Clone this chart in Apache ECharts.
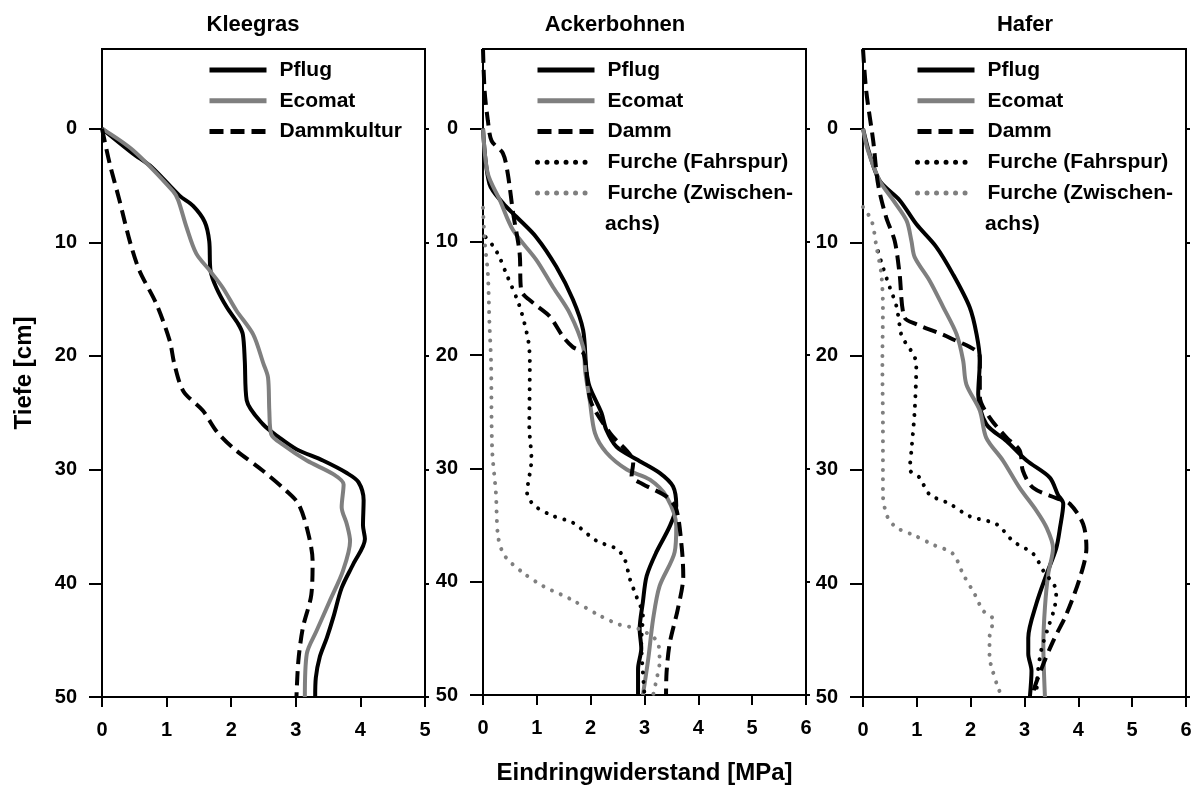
<!DOCTYPE html>
<html lang="de">
<head>
<meta charset="UTF-8">
<title>Eindringwiderstand</title>
<style>
    * { margin: 0; padding: 0; }
    #chart { width: 1196px; height: 790px; }
</style>
</head>
<body>
<div id="chart"></div>
<script src="https://cdn.jsdelivr.net/npm/echarts@6/dist/echarts.min.js"></script>
<script>
    // pairs: [Eindringwiderstand MPa, Tiefe cm]
    var kleePflug = [[0,0],[0.48,2.2],[0.77,3.4],[1.2,5.9],[1.41,6.8],[1.59,8.2],[1.66,9.9],[1.68,12.5],[1.77,14.0],[1.93,15.7],[2.11,17.2],[2.18,18.1],[2.21,20.4],[2.24,23.9],[2.49,26.0],[2.75,27.2],[3.01,28.2],[3.42,29.2],[3.79,30.3],[3.97,31.1],[4.05,32.7],[4.04,34.9],[4.07,36.1],[3.89,38.3],[3.71,40.4],[3.58,43.0],[3.48,44.8],[3.37,46.5],[3.31,48.3],[3.30,50]];
    var kleeEcomat = [[0,0],[0.48,1.9],[1.1,5.5],[1.18,6.3],[1.31,8.7],[1.46,11.0],[1.67,12.5],[1.87,14.0],[2.08,16.0],[2.34,18.1],[2.5,20.7],[2.57,21.9],[2.59,24.8],[2.62,26.9],[2.8,27.8],[3.17,29.2],[3.58,30.4],[3.74,31.3],[3.71,33.3],[3.79,34.8],[3.84,36.3],[3.73,38.9],[3.53,41.5],[3.32,44.2],[3.17,46.2],[3.14,50]];
    var kleeDamm = [[0,0],[0.12,3.1],[0.27,6.3],[0.43,9.9],[0.58,12.5],[0.84,15.4],[1.05,18.7],[1.12,20.7],[1.26,23.1],[1.56,24.8],[1.77,26.6],[2.03,28.1],[2.49,30.1],[2.86,31.9],[3.04,33.0],[3.17,35.1],[3.26,38.0],[3.24,41.0],[3.11,43.9],[3.04,46.8],[3.01,50]];

    var ackPflug = [[0,0],[0.12,4.9],[0.37,6.6],[0.62,7.8],[0.99,9.6],[1.36,12.2],[1.67,15.1],[1.86,17.8],[1.92,21.3],[1.98,22.8],[2.2,25.1],[2.29,26.6],[2.48,28.1],[2.85,29.2],[3.28,30.4],[3.53,31.6],[3.59,33.3],[3.47,35.1],[3.22,37.4],[3.04,39.5],[2.97,41.8],[2.91,44.2],[2.94,45.9],[2.88,47.7],[2.88,50]];
    var ackEcomat = [[0,0],[0.09,4.0],[0.31,6.3],[0.56,9.0],[0.99,11.6],[1.3,14.0],[1.61,16.3],[1.86,19.3],[1.9,21.5],[1.98,23.9],[2.08,26.9],[2.29,28.6],[2.67,30.1],[3.1,31.0],[3.41,32.5],[3.59,35.1],[3.56,37.4],[3.28,40.4],[3.16,43.3],[3.07,46.8],[2.97,50]];
    var ackDamm = [[0,-7],[0.03,-3.3],[0.09,-0.7],[0.16,1.1],[0.37,2.2],[0.46,4.0],[0.56,7.5],[0.68,11.0],[0.71,14.3],[0.93,15.4],[1.24,16.6],[1.49,18.4],[1.67,19.3],[1.86,19.8],[1.92,21.5],[2.01,24.2],[2.36,26.9],[2.79,29.5],[2.76,30.7],[2.97,31.4],[3.41,32.5],[3.59,33.6],[3.69,36.9],[3.72,39.5],[3.62,42.4],[3.47,45.4],[3.41,48.0],[3.4,50]];
    var ackFahrspur = [[0.05,9.6],[0.19,10.4],[0.3,11.3],[0.43,12.8],[0.68,15.7],[0.84,18.7],[0.87,20.7],[0.86,26.3],[0.9,29.2],[0.82,32.2],[0.96,33.3],[1.3,34.2],[1.67,34.8],[2.11,36.4],[2.48,37.1],[2.63,38.0],[2.73,39.8],[2.85,41.3],[2.97,43.0],[2.94,45.4],[2.97,48.0],[3.0,50]];
    var ackZwischen = [[0,7.0],[0.03,9.9],[0.09,12.8],[0.12,17.2],[0.15,20.7],[0.17,28.3],[0.24,32.2],[0.28,36.0],[0.4,37.7],[0.74,39.2],[1.12,40.4],[1.61,41.5],[2.17,43.0],[2.54,43.8],[2.91,44.2],[3.25,45.4],[3.28,47.1],[3.22,48.7],[3.16,50]];

    var hafPflug = [[0,0],[0.12,2.2],[0.31,4.6],[0.68,6.3],[0.99,8.4],[1.36,10.4],[1.67,12.8],[1.98,15.7],[2.11,18.1],[2.17,20.4],[2.14,23.4],[2.29,26.0],[2.67,27.5],[3.04,29.2],[3.47,30.7],[3.62,32.2],[3.72,33.0],[3.66,35.1],[3.59,36.9],[3.41,39.2],[3.22,41.8],[3.07,44.8],[3.07,46.2],[3.13,47.7],[3.1,50]];
    var hafEcomat = [[0,0],[0.09,1.9],[0.31,4.6],[0.56,6.3],[0.81,8.1],[0.9,9.9],[0.96,11.3],[1.24,13.4],[1.49,15.7],[1.74,18.1],[1.86,20.4],[1.92,22.5],[2.17,24.8],[2.29,27.2],[2.6,29.2],[2.91,31.6],[3.22,33.6],[3.41,35.1],[3.53,36.9],[3.44,39.2],[3.38,42.1],[3.35,45.4],[3.38,50]];
    var hafDamm = [[0,-7],[0.06,-3.3],[0.19,1.1],[0.28,4.9],[0.43,7.8],[0.59,9.9],[0.68,12.8],[0.77,16.6],[0.99,17.2],[1.61,18.4],[2.17,20.1],[2.17,23.6],[2.35,25.4],[2.67,27.2],[2.91,28.3],[2.97,30.1],[3.16,31.6],[3.59,32.5],[3.84,33.0],[4.09,34.8],[4.15,36.9],[4.03,39.5],[3.78,42.7],[3.53,45.1],[3.35,47.1],[3.19,49.1],[3.15,50]];
    var hafFahrspur = [[0.28,10.8],[0.37,12.2],[0.5,14.0],[0.62,15.6],[0.68,17.3],[0.71,18.1],[0.81,19.0],[0.93,19.8],[0.99,20.7],[0.96,24.8],[0.9,28.3],[0.87,30.0],[1.05,30.7],[1.24,32.2],[1.61,33.0],[1.98,34.1],[2.48,34.8],[2.79,36.3],[3.16,37.4],[3.35,38.9],[3.59,40.7],[3.56,42.1],[3.44,43.9],[3.32,45.7],[3.25,47.7],[3.22,50]];
    var hafZwischen = [[0,6.9],[0.16,8.1],[0.25,10.4],[0.34,12.8],[0.37,15.7],[0.36,20.6],[0.37,26.3],[0.37,32.2],[0.4,33.3],[0.46,34.2],[0.62,35.1],[0.96,35.8],[1.3,36.6],[1.67,37.4],[1.86,39.2],[2.08,41.0],[2.23,42.4],[2.42,43.2],[2.35,44.8],[2.35,46.5],[2.39,47.4],[2.51,49.2],[2.59,50]];

    var panelTitles = ['Kleegras', 'Ackerbohnen', 'Hafer'];
    var xMax = [5, 6, 6];
    var depthTicks = [0, 10, 20, 30, 40, 50];
    var ZWISCHEN = 'Furche (Zwischen-achs)';

    var panels = [
        [['Pflug', kleePflug, 'solid'], ['Ecomat', kleeEcomat, 'gray'], ['Dammkultur', kleeDamm, 'dash']],
        [['Pflug', ackPflug, 'solid'], ['Ecomat', ackEcomat, 'gray'], ['Damm', ackDamm, 'dash'],
         ['Furche (Fahrspur)', ackFahrspur, 'dot'], [ZWISCHEN, ackZwischen, 'dotgray']],
        [['Pflug', hafPflug, 'solid'], ['Ecomat', hafEcomat, 'gray'], ['Damm', hafDamm, 'dash'],
         ['Furche (Fahrspur)', hafFahrspur, 'dot'], [ZWISCHEN, hafZwischen, 'dotgray']]
    ];

    var FONT = '"Liberation Sans", Arial, Helvetica, sans-serif';
    var gridLeft = [102, 483, 863];
    var gridWidth = 323;
    var legendLeft = [207, 535, 915];
    var titleX = [253, 615, 1025];

    function lineStyleFor(kind) {
        if (kind === 'solid') return { color: '#000', width: 4 };
        if (kind === 'gray') return { color: '#7f7f7f', width: 4 };
        if (kind === 'dash') return { color: '#000', width: 4, type: [14, 7] };
        if (kind === 'dot') return { color: '#000', width: 4, type: [0.01, 9.5], cap: 'round' };
        return { color: '#7f7f7f', width: 4, type: [0.01, 9.5], cap: 'round' };
    }

    var tickText = { fontSize: 20, fontWeight: 'bold', color: '#000', fontFamily: FONT };

    var option = {
        animation: false,
        backgroundColor: '#fff',
        grid: [], xAxis: [], yAxis: [], series: [], legend: [], graphic: []
    };

    panels.forEach(function (list, i) {
        option.grid.push({
            left: gridLeft[i], width: gridWidth, top: 49, height: 648,
            show: true, borderColor: '#000', borderWidth: 2
        });
        option.xAxis.push({
            type: 'value', gridIndex: i, min: 0, max: xMax[i], interval: 1, position: 'bottom',
            axisLine: { onZero: false, lineStyle: { color: '#000', width: 2 } },
            axisTick: { length: 10, lineStyle: { color: '#000', width: 2 } },
            axisLabel: Object.assign({ margin: 23 }, tickText),
            splitLine: { show: false },
            name: i === 1 ? 'Eindringwiderstand [MPa]' : '',
            nameLocation: 'middle', nameGap: 66,
            nameTextStyle: { fontSize: 24, fontWeight: 'bold', color: '#000', fontFamily: FONT }
        });
        option.yAxis.push({
            type: 'value', gridIndex: i, inverse: true, min: -7, max: 50, position: 'left',
            axisLine: { show: true, onZero: false, lineStyle: { color: '#000', width: 2 } },
            axisTick: { show: true, length: 13, customValues: depthTicks, lineStyle: { color: '#000', width: 2 } },
            axisLabel: Object.assign({ margin: 25, customValues: depthTicks }, tickText),
            splitLine: { show: false },
            name: i === 0 ? 'Tiefe [cm]' : '',
            nameLocation: 'middle', nameGap: 66, nameRotate: 90,
            nameTextStyle: { fontSize: 24, fontWeight: 'bold', color: '#000', fontFamily: FONT }
        });
        option.yAxis.push({
            type: 'value', gridIndex: i, inverse: true, min: -7, max: 50, position: 'right',
            axisLine: { show: true, onZero: false, lineStyle: { color: '#000', width: 2 } },
            axisTick: { show: true, length: 4, customValues: depthTicks, lineStyle: { color: '#000', width: 2 } },
            axisLabel: { show: false },
            splitLine: { show: false }
        });

        var names = [];
        list.forEach(function (s) {
            names.push(s[0]);
            var ls = lineStyleFor(s[2]);
            option.series.push({
                type: 'line', name: s[0], xAxisIndex: i, yAxisIndex: i * 2,
                data: s[1], symbol: 'none', showSymbol: false, smooth: 0.3, color: ls.color,
                lineStyle: ls
            });
        });

        option.legend.push({
            data: names, orient: 'vertical', left: legendLeft[i], top: 58, padding: 0,
            itemWidth: 57, itemHeight: 24, itemGap: 6.75, selectedMode: false,
            lineStyle: { width: 5 },
            itemStyle: { opacity: 0 },
            textStyle: { fontSize: 21, fontWeight: 'bold', color: '#000', fontFamily: FONT, lineHeight: 24, padding: [0, 0, 0, 8] },
            formatter: function (name) {
                return name === ZWISCHEN ? 'Furche (Zwischen-' : name;
            }
        });

        option.graphic.push({
            type: 'text', x: titleX[i], y: 24.5,
            style: { text: panelTitles[i], align: 'center', verticalAlign: 'middle', fill: '#000',
                     fontSize: 22, fontWeight: 'bold', fontFamily: FONT }
        });
        if (list.length > 3) {
            option.graphic.push({
                type: 'text', x: legendLeft[i] + 70, y: 70 + 5 * 30.75,
                style: { text: 'achs)', align: 'left', verticalAlign: 'middle', fill: '#000',
                         fontSize: 21, fontWeight: 'bold', fontFamily: FONT }
            });
        }
    });

    var myChart = echarts.init(document.getElementById('chart'));
    myChart.setOption(option);
</script>
</body>
</html>
